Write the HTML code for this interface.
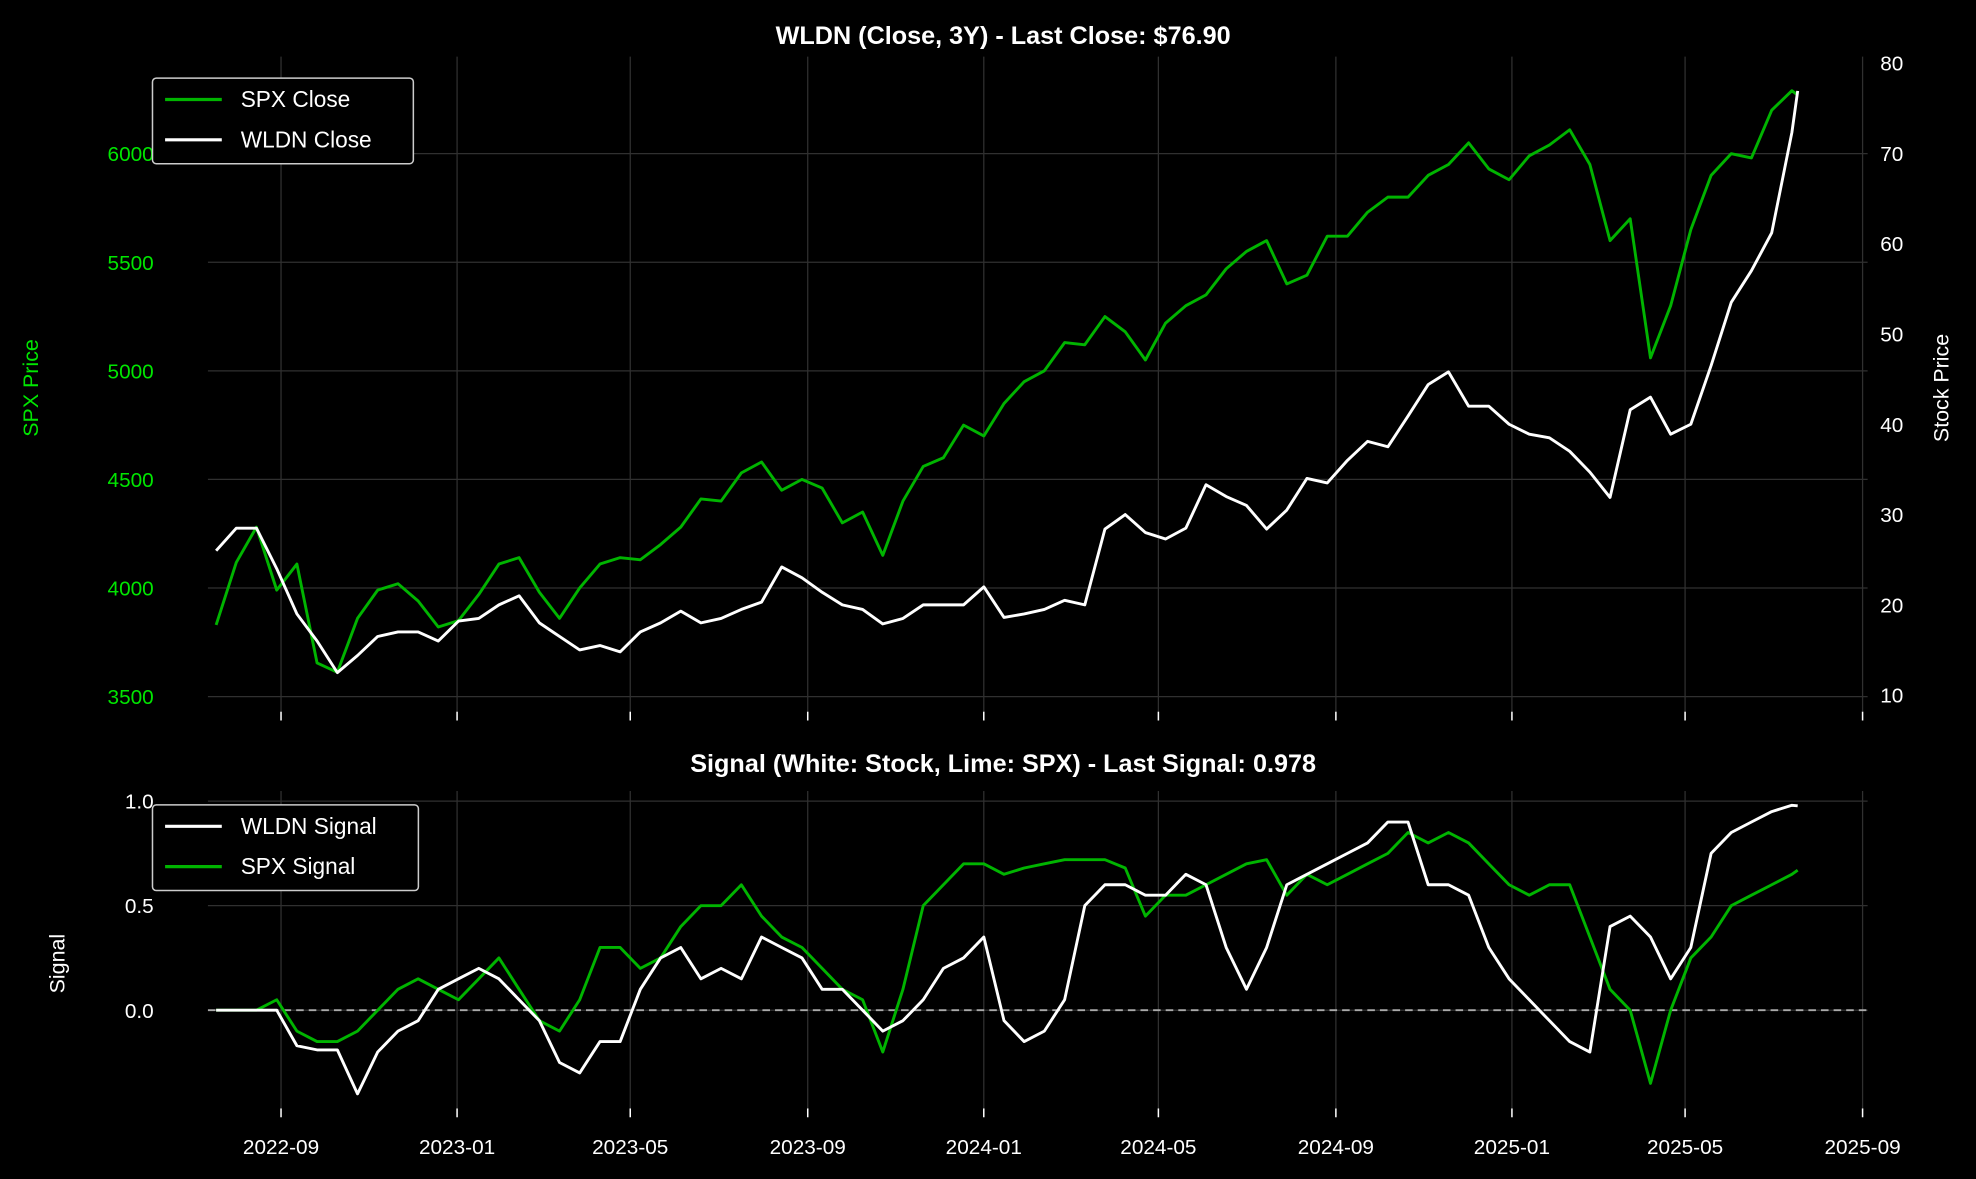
<!DOCTYPE html>
<html><head><meta charset="utf-8"><style>
html,body{margin:0;padding:0;background:#000;}
svg{display:block;}
text{font-family:"Liberation Sans",Arial,sans-serif;}
</style></head><body>
<svg id="chart" width="1976" height="1179" viewBox="0 0 1568 936" preserveAspectRatio="none" xmlns="http://www.w3.org/2000/svg">
<rect width="1568" height="936" fill="#000"/>
<g id="top-grid"></g>
<g id="bot-grid"></g>
<g id="lines"></g>
<g id="labels"></g>
<text x="796" y="35" fill="#fff" font-size="20" font-weight="bold" text-anchor="middle">WLDN (Close, 3Y) - Last Close: $76.90</text>
<text x="796" y="613" fill="#fff" font-size="20" font-weight="bold" text-anchor="middle">Signal (White: Stock, Lime: SPX) - Last Signal: 0.978</text>
<text transform="translate(30,308) rotate(-90)" fill="#00e600" font-size="17" text-anchor="middle">SPX Price</text>
<text transform="translate(1546,308) rotate(-90)" fill="#fff" font-size="17" text-anchor="middle">Stock Price</text>
<text transform="translate(51,765) rotate(-90)" fill="#fff" font-size="17" text-anchor="middle">Signal</text>
<g>
<rect x="121" y="62" width="207" height="68" rx="3" fill="#000" stroke="#ccc" stroke-width="1.2"/>
<line x1="131" y1="79" x2="176" y2="79" stroke="#00b400" stroke-width="2.5"/>
<text x="191" y="85" fill="#fff" font-size="18">SPX Close</text>
<line x1="131" y1="111" x2="176" y2="111" stroke="#fff" stroke-width="2.5"/>
<text x="191" y="117" fill="#fff" font-size="18">WLDN Close</text>
</g>
<g>
<rect x="121" y="639" width="211" height="68" rx="3" fill="#000" stroke="#ccc" stroke-width="1.2"/>
<line x1="131" y1="656" x2="176" y2="656" stroke="#fff" stroke-width="2.5"/>
<text x="191" y="662" fill="#fff" font-size="18">WLDN Signal</text>
<line x1="131" y1="688" x2="176" y2="688" stroke="#00b400" stroke-width="2.5"/>
<text x="191" y="694" fill="#fff" font-size="18">SPX Signal</text>
</g>
</svg>
<script>
const dates=["2022-07-18","2022-08-01","2022-08-15","2022-08-29","2022-09-12","2022-09-26","2022-10-10","2022-10-24","2022-11-07","2022-11-21","2022-12-05","2022-12-19",
"2023-01-02","2023-01-16","2023-01-30","2023-02-13","2023-02-27","2023-03-13","2023-03-27","2023-04-10","2023-04-24","2023-05-08","2023-05-22","2023-06-05","2023-06-19","2023-07-03","2023-07-17","2023-07-31","2023-08-14","2023-08-28","2023-09-11","2023-09-25","2023-10-09","2023-10-23","2023-11-06","2023-11-20","2023-12-04","2023-12-18",
"2024-01-01","2024-01-15","2024-01-29","2024-02-12","2024-02-26","2024-03-11","2024-03-25","2024-04-08","2024-04-22","2024-05-06","2024-05-20","2024-06-03","2024-06-17","2024-07-01","2024-07-15","2024-07-29","2024-08-12","2024-08-26","2024-09-09","2024-09-23","2024-10-07","2024-10-21","2024-11-04","2024-11-18","2024-12-02","2024-12-16","2024-12-30",
"2025-01-13","2025-01-27","2025-02-10","2025-02-24","2025-03-10","2025-03-24","2025-04-07","2025-04-21","2025-05-05","2025-05-19","2025-06-02","2025-06-16","2025-06-30","2025-07-14"];
const spxClose=[3830,4118,4280,3990,4110,3655,3612,3860,3990,4020,3940,3820,
3850,3970,4110,4140,3980,3860,4000,4110,4140,4130,4200,4280,4410,4400,4530,4580,4450,4500,4460,4300,4350,4150,4400,4560,4600,4750,
4700,4850,4950,5000,5130,5120,5250,5180,5050,5220,5300,5350,5470,5550,5600,5400,5440,5620,5620,5730,5800,5800,5900,5950,6050,5930,5880,
5990,6040,6110,5950,5600,5700,5060,5300,5650,5900,6000,5980,6200,6290];
const wldnClose=[26,28.5,28.5,24,19,16,12.5,14.4,16.5,17,17,16,
18.2,18.5,20,21,18,16.5,15,15.5,14.8,17,18,19.3,18,18.5,19.5,20.3,24.2,23,21.4,20,19.5,17.9,18.5,20,20,20,
22,18.6,19,19.5,20.5,20,28.4,30,28,27.3,28.5,33.3,32,31,28.4,30.5,34,33.5,36,38.1,37.5,40.9,44.4,45.8,42,42,40,
38.9,38.5,37,34.7,31.9,41.6,43,38.9,40,46.5,53.5,57,61.2,72.3];
const wldnSignal=[0,0,0,0,-0.17,-0.19,-0.19,-0.4,-0.2,-0.1,-0.05,0.1,
0.15,0.2,0.15,0.05,-0.05,-0.25,-0.3,-0.15,-0.15,0.1,0.25,0.3,0.15,0.2,0.15,0.35,0.3,0.25,0.1,0.1,0.0,-0.1,-0.05,0.05,0.2,0.25,
0.35,-0.05,-0.15,-0.1,0.05,0.5,0.6,0.6,0.55,0.55,0.65,0.6,0.3,0.1,0.3,0.6,0.65,0.7,0.75,0.8,0.9,0.9,0.6,0.6,0.55,
0.3,0.15,0.05,-0.05,-0.15,-0.2,0.4,0.45,0.35,0.15,0.3,0.75,0.85,0.9,0.95,0.98];
const spxSignal=[0,0,0,0.05,-0.1,-0.15,-0.15,-0.1,0.0,0.1,0.15,0.1,
0.05,0.15,0.25,0.1,-0.05,-0.1,0.05,0.3,0.3,0.2,0.25,0.4,0.5,0.5,0.6,0.45,0.35,0.3,0.2,0.1,0.05,-0.2,0.1,0.5,0.6,0.7,
0.7,0.65,0.68,0.7,0.72,0.72,0.72,0.68,0.45,0.55,0.55,0.6,0.65,0.7,0.72,0.55,0.65,0.6,0.65,0.7,0.75,0.85,0.8,0.85,0.8,
0.7,0.6,0.55,0.6,0.6,0.35,0.1,0.0,-0.35,0.0,0.25,0.35,0.5,0.55,0.6,0.65];
const lastDate="2025-07-18", lastWldn=76.9, lastSpx=6270, lastWSig=0.978, lastSSig=0.67;
const xTicks=["2022-09","2023-01","2023-05","2023-09","2024-01","2024-05","2024-09","2025-01","2025-05","2025-09"];
const spxTicks=[3500,4000,4500,5000,5500,6000];
const stockTicks=[10,20,30,40,50,60,70,80];
const sigTicks=[0.0,0.5,1.0];

const NS="http://www.w3.org/2000/svg";
const t0=Date.parse("2022-09-01"), t1=Date.parse("2025-09-01");
function X(d){const t=Date.parse(d.length===7?d+"-01":d);return 223+(t-t0)/(t1-t0)*1255;}
function Yspx(v){return 122+(6000-v)/500*86.2;}
function Ystk(v){return 50+(80-v)/10*71.7;}
function Ysig(v){return 802-v*166;}
function mk(tag,attrs,parent){const e=document.createElementNS(NS,tag);for(const k in attrs)e.setAttribute(k,attrs[k]);document.getElementById(parent).appendChild(e);return e;}
const L=165,R=1482,GC="#303030";
xTicks.forEach(d=>{
  const x=X(d);
  let g=mk("line",{x1:x,x2:x,y1:45,y2:565,stroke:GC,"stroke-width":1},"top-grid");
  
  
  let tk=mk("line",{x1:x,x2:x,y1:565,y2:572,stroke:"#fff","stroke-width":1.2},"top-grid");
  
  
  let g2=mk("line",{x1:x,x2:x,y1:628,y2:880,stroke:GC,"stroke-width":1},"bot-grid");
  
  
  let tk2=mk("line",{x1:x,x2:x,y1:880,y2:887,stroke:"#fff","stroke-width":1.2},"bot-grid");
  
  
  let t=mk("text",{x:x,y:916,fill:"#fff","font-size":16.5,"text-anchor":"middle"},"labels");
  t.textContent=d;
  
  
});
spxTicks.forEach(v=>{
  const y=Yspx(v);
  let g=mk("line",{x1:L,x2:R,y1:y,y2:y,stroke:GC,"stroke-width":1},"top-grid");
  
  
  let t=mk("text",{x:122,y:y+6,fill:"#00e600","font-size":16.5,"text-anchor":"end"},"labels");
  t.textContent=v;
  
  
});
stockTicks.forEach(v=>{
  const y=Ystk(v);
  let t=mk("text",{x:1492,y:y+6,fill:"#fff","font-size":16.5},"labels");
  t.textContent=v;
  
  
});
sigTicks.forEach(v=>{
  const y=Ysig(v);
  let g=mk("line",{x1:L,x2:R,y1:y,y2:y,stroke:GC,"stroke-width":1},"bot-grid");
  
  
  let t=mk("text",{x:122,y:y+6,fill:"#fff","font-size":16.5,"text-anchor":"end"},"labels");
  t.textContent=v.toFixed(1);
  
  
});
let z=mk("line",{x1:L,x2:R,y1:Ysig(0),y2:Ysig(0),stroke:"#aaa","stroke-width":1.5,"stroke-dasharray":"6,4"},"bot-grid");


function path(vals,last,Y,color,name){
  let pts=dates.map((d,i)=>X(d).toFixed(1)+","+Y(vals[i]).toFixed(1));
  pts.push(X(lastDate).toFixed(1)+","+Y(last).toFixed(1));
  let p=mk("polyline",{points:pts.join(" "),fill:"none",stroke:color,"stroke-width":2.3,"stroke-linejoin":"round"},"lines");
  
  
}
path(spxClose,lastSpx,Yspx,"#00b400","spx-close-line");
path(wldnClose,lastWldn,Ystk,"#ffffff","wldn-close-line");
path(spxSignal,lastSSig,Ysig,"#00b400","spx-signal-line");
path(wldnSignal,lastWSig,Ysig,"#ffffff","wldn-signal-line");
</script>
</body></html>
